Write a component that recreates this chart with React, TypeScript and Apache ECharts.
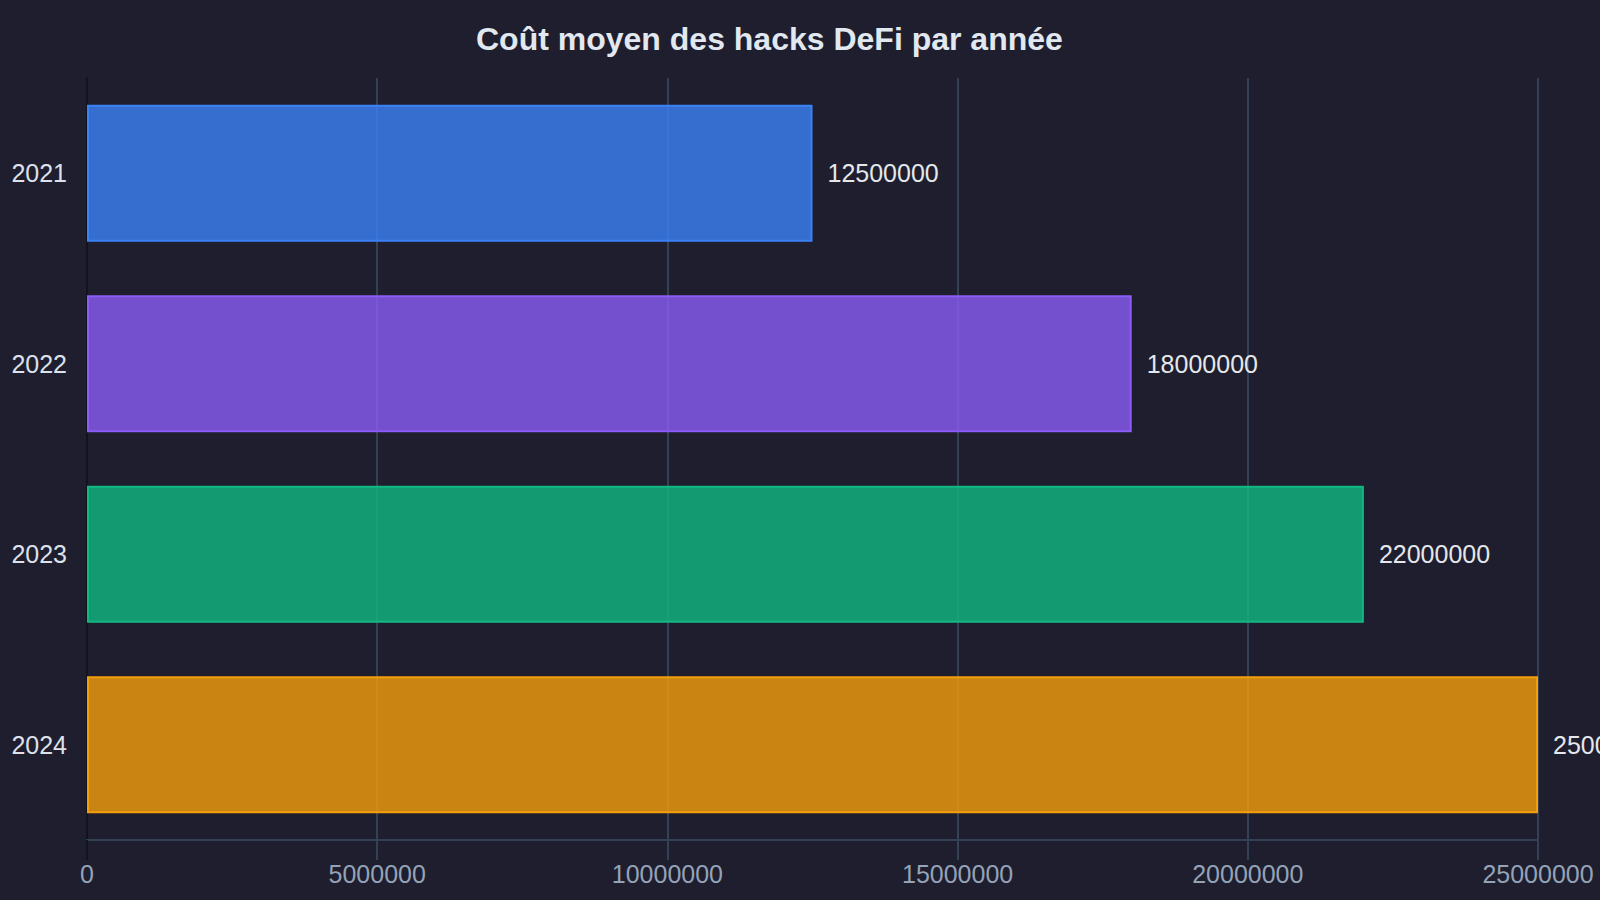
import React, { useEffect, useRef } from "react";
import * as echarts from "echarts";

const years = ["2021", "2022", "2023", "2024"];
const avgCost = [12500000, 18000000, 22000000, 25000000];
const barColors = ["#3b82f6", "#8b5cf6", "#10b981", "#f59e0b"];
const barFills = [
  "rgba(59,130,246,0.8)",
  "rgba(139,92,246,0.8)",
  "rgba(16,185,129,0.8)",
  "rgba(245,158,11,0.8)",
];
const titleText = "Coût moyen des hacks DeFi par année";

export default function App() {
  const ref = useRef<HTMLDivElement>(null);
  useEffect(() => {
    document.body.style.margin = "0";
    document.body.style.background = "#1e1e2e";
    if (!ref.current) return;
    const chart = echarts.init(ref.current, undefined, { renderer: "svg" });
    const font = "'Liberation Sans', Arial, sans-serif";
    chart.setOption({
      animation: false,
      backgroundColor: "#1e1e2e",
      textStyle: { fontFamily: font },
      title: {
        text: titleText,
        left: 471,
        top: 18,
        textStyle: {
          color: "#e2e8f0",
          fontSize: 32,
          fontWeight: "bold",
          fontFamily: font,
        },
      },
      grid: { left: 87, right: 62, top: 78, bottom: 60, containLabel: false },
      xAxis: {
        type: "value",
        min: 0,
        max: 25000000,
        interval: 5000000,
        axisLine: { show: true, lineStyle: { color: "#334155", width: 2 } },
        axisTick: { show: true, length: 20, lineStyle: { color: "#334155", width: 2 } },
        splitLine: { show: true, lineStyle: { color: "#334155", width: 2 } },
        axisLabel: {
          color: "#94a3b8",
          fontSize: 25,
          margin: 21,
          fontFamily: font,
          formatter: (v: number) => String(v),
        },
      },
      yAxis: {
        type: "category",
        data: years,
        inverse: true,
        axisLine: { show: true, lineStyle: { color: "#13131c", width: 2 } },
        axisTick: { show: false },
        splitLine: { show: false },
        axisLabel: {
          color: "#dde1ea",
          fontSize: 25,
          margin: 20,
          fontFamily: font,
        },
      },
      graphic: [
        {
          type: "line",
          shape: { x1: 87, y1: 840, x2: 87, y2: 860 },
          style: { stroke: "#13131c", lineWidth: 2 },
          z: 10,
        },
      ],
      series: [
        {
          type: "bar",
          barWidth: "72%",
          data: avgCost.map((v, i) => ({
            value: v,
            itemStyle: {
              color: barFills[i],
              borderColor: barColors[i],
              borderWidth: 2,
            },
          })),
          label: {
            show: true,
            position: "right",
            distance: 15,
            color: "#e5e7eb",
            fontSize: 25,
            fontFamily: font,
          },
        },
      ],
    });
    return () => chart.dispose();
  }, []);
  return <div ref={ref} style={{ width: 1600, height: 900 }} />;
}
